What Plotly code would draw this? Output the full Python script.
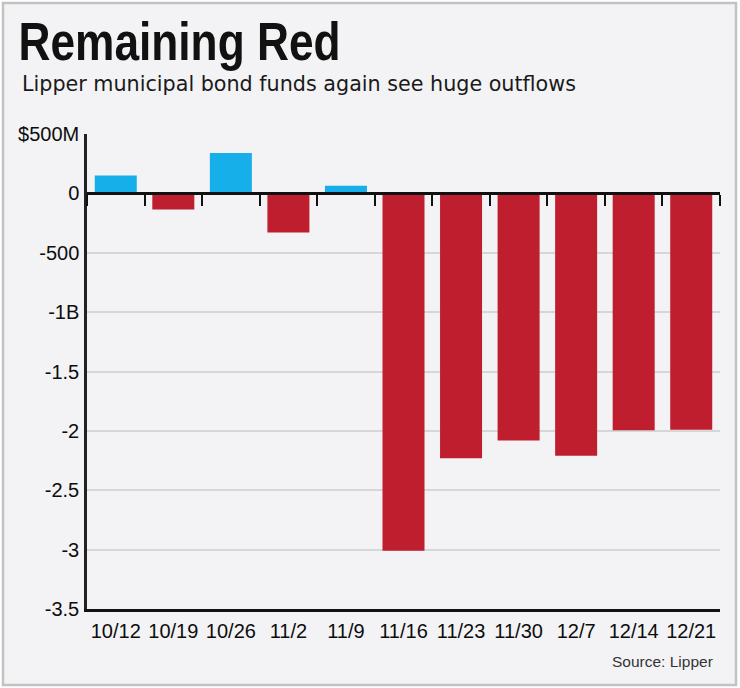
import plotly.graph_objects as go

weeks = ["10/12", "10/19", "10/26", "11/2", "11/9", "11/16", "11/23", "11/30", "12/7", "12/14", "12/21"]
flows_billions = [0.15, -0.135, 0.34, -0.33, 0.065, -3.01, -2.23, -2.08, -2.21, -1.995, -1.99]
y_tickvals = [0.5, 0, -0.5, -1, -1.5, -2, -2.5, -3, -3.5]
y_ticktext = ["$500M", "0", "-500", "-1B", "-1.5", "-2", "-2.5", "-3", "-3.5"]

TITLE = "Remaining Red"
SUBTITLE = "Lipper municipal bond funds again see huge outflows"
SOURCE = "Source: Lipper"

BLUE = "#17afe9"
RED = "#bf1e2e"
colors = [BLUE if v >= 0 else RED for v in flows_billions]

W, H = 740, 688
L, R, T, B = 87, 20, 134, 79
PW, PH = W - L - R, H - T - B


def px_x(px):
    return (px - L) / PW


def px_y(py):
    return (H - B - py) / PH


y_min, y_max = -3.5, 0.5
zero_pos = (0 - y_min) / (y_max - y_min)

fig = go.Figure()
fig.add_trace(go.Bar(
    x=weeks, y=flows_billions, marker=dict(color=colors, line=dict(width=0)),
    hoverinfo="x+y", showlegend=False,
))
# invisible copy on the overlay axis that draws the zero line with its tick marks
fig.add_trace(go.Scatter(
    x=weeks, y=flows_billions, xaxis="x2", yaxis="y", mode="markers",
    marker=dict(opacity=0), hoverinfo="skip", showlegend=False,
))

tick_font = dict(family="Liberation Sans, Arial, sans-serif", size=20, color="#0d0d0d")

fig.update_layout(
    width=W, height=H,
    margin=dict(l=L, r=R, t=T, b=B),
    paper_bgcolor="white",
    plot_bgcolor="rgba(0,0,0,0)",
    bargap=0.27,
    xaxis=dict(
        type="category", showline=True, linecolor="#111111", linewidth=3,
        showgrid=False, ticks="", tickfont=tick_font, ticklabelstandoff=2,
        fixedrange=True, range=[-0.5, len(weeks) - 0.5],
    ),
    xaxis2=dict(
        type="category", overlaying="x", matches="x", anchor="free", position=zero_pos,
        side="bottom", showline=True, linecolor="#111111", linewidth=2.5,
        ticks="outside", tickson="boundaries", ticklen=11, tickwidth=2, tickcolor="#111111",
        showticklabels=False, showgrid=False,
    ),
    yaxis=dict(
        range=[y_min, y_max], tickvals=y_tickvals, ticktext=y_ticktext,
        showline=True, linecolor="#222222", linewidth=2.5,
        showgrid=True, gridcolor="#d6d6d8", gridwidth=2,
        zeroline=False, ticks="", tickfont=tick_font, ticklabelstandoff=1,
        fixedrange=True,
    ),
    shapes=[dict(
        type="rect", xref="paper", yref="paper", layer="below",
        x0=px_x(3), x1=px_x(736), y0=px_y(685), y1=px_y(3),
        fillcolor="#f3f3f5", line=dict(color="#c2c2c2", width=2.5),
    )],
    annotations=[
        dict(text=TITLE, xref="paper", yref="paper",
             x=px_x(18 + 322 / 2), y=px_y(41), xanchor="center", yanchor="middle", showarrow=False,
             font=dict(family="Liberation Sans, Arial, sans-serif", size=54, weight=700, color="#111111")),
        dict(text=SUBTITLE, xref="paper", yref="paper",
             x=px_x(20), y=px_y(84), xanchor="left", yanchor="middle", showarrow=False,
             font=dict(family="DejaVu Sans, sans-serif", size=20.7, color="#1a1a1a")),
        dict(text=SOURCE, xref="paper", yref="paper",
             x=px_x(715), y=px_y(661), xanchor="right", yanchor="middle", showarrow=False,
             font=dict(family="Liberation Sans, Arial, sans-serif", size=15.5, color="#333333")),
    ],
)

post_js = """
document.body.style.margin = '0';
document.body.style.overflow = 'hidden';
var gd = document.getElementById('{plot_id}');
gd.querySelectorAll('.annotation-text').forEach(function (t) {
  if (t.textContent === 'Remaining Red') {
    t.setAttribute('textLength', '322');
    t.setAttribute('lengthAdjust', 'spacingAndGlyphs');
  }
});
"""

fig.write_html("out.html", post_script=post_js, config={"displayModeBar": False})
